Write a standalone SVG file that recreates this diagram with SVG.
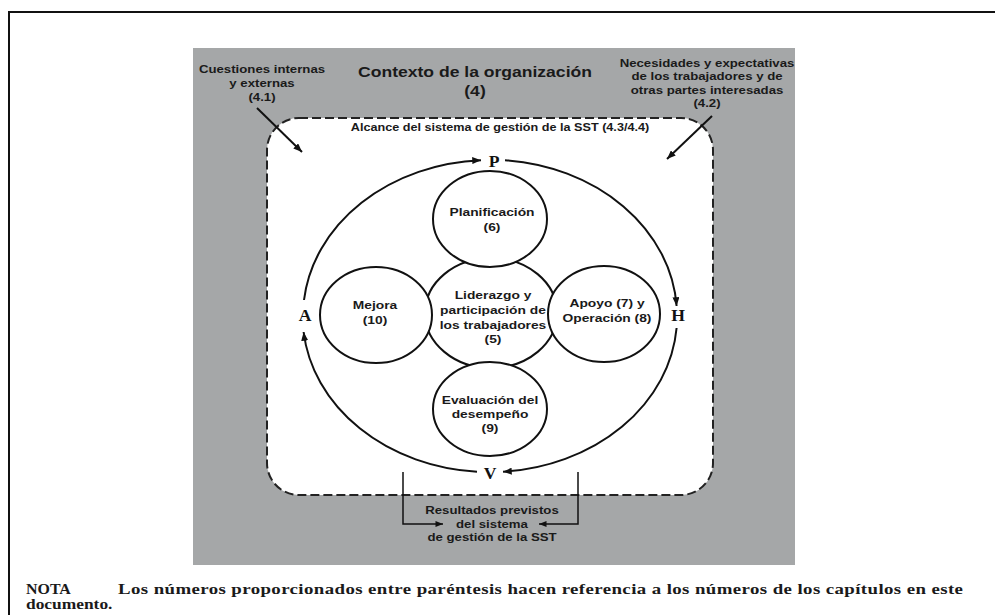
<svg xmlns="http://www.w3.org/2000/svg" width="995" height="615" viewBox="0 0 995 615">
<style>
.lbl{font-family:"Liberation Sans",Arial,sans-serif;font-weight:bold;fill:#1a1a1a;text-anchor:middle}
.s11{font-size:11.3px}
.s12{font-size:11.8px}
.ttl{font-size:15px}
.phva{font-family:"Liberation Serif","Times New Roman",serif;font-weight:bold;font-size:16px;fill:#111;text-anchor:middle}
.node{fill:#fff;stroke:#111;stroke-width:2}
.conn{fill:none;stroke:#111;stroke-width:2}
.thin{fill:none;stroke:#111;stroke-width:1.5}
.nota{font-family:"Liberation Serif","Times New Roman",serif;font-weight:bold;font-size:14.5px;fill:#1a1a1a}
</style>
<defs>
<marker id="ah" viewBox="0 0 10 8" refX="10" refY="4" markerWidth="9" markerHeight="7" markerUnits="userSpaceOnUse" orient="auto">
<path d="M0,0 L10,4 L0,8 z" fill="#111"/>
</marker>
<marker id="ahs" viewBox="0 0 10 8" refX="10" refY="4" markerWidth="8" markerHeight="6" markerUnits="userSpaceOnUse" orient="auto">
<path d="M0,0 L10,4 L0,8 z" fill="#111"/>
</marker>
</defs>
<rect x="0" y="0" width="995" height="615" fill="#fff"/>
<path d="M9,615 V12 H995" fill="none" stroke="#111" stroke-width="2"/>
<rect id="context-bg" x="193" y="48" width="602" height="517" fill="#a5a7a8"/>

<g id="context-title">
<text class="lbl ttl" transform="translate(475,77) scale(1.17,1)">Contexto de la organización</text>
<text class="lbl ttl" transform="translate(475,96) scale(1.17,1)">(4)</text>
</g>
<g id="issues">
<text class="lbl s11" transform="translate(262,73) scale(1.17,1)"><tspan x="0" dy="0">Cuestiones internas</tspan><tspan x="0" dy="14">y externas</tspan><tspan x="0" dy="14">(4.1)</tspan></text>
</g>
<g id="needs">
<text class="lbl s11" transform="translate(707,67) scale(1.17,1)"><tspan x="0" dy="0">Necesidades y expectativas</tspan><tspan x="0" dy="13.5">de los trabajadores y de</tspan><tspan x="0" dy="13.5">otras partes interesadas</tspan><tspan x="0" dy="13.5">(4.2)</tspan></text>
</g>

<g id="scope">
<rect x="267" y="118" width="446" height="377" rx="32" ry="32" fill="#fff" stroke="#222" stroke-width="2" stroke-dasharray="9 4"/>
<text class="lbl" font-size="10.8" transform="translate(500,131) scale(1.17,1)">Alcance del sistema de gestión de la SST (4.3/4.4)</text>
</g>

<g id="leadership">
<ellipse class="node" cx="491" cy="313" rx="66" ry="55"/>
<text class="lbl s12" transform="translate(493,299) scale(1.17,1)"><tspan x="0" dy="0">Liderazgo y</tspan><tspan x="0" dy="15">participación de</tspan><tspan x="0" dy="15">los trabajadores</tspan><tspan x="0" dy="14">(5)</tspan></text>
</g>
<g id="planning">
<ellipse class="node" cx="490" cy="219" rx="57" ry="48"/>
<text class="lbl s12" transform="translate(492,216) scale(1.17,1)"><tspan x="0" dy="0">Planificación</tspan><tspan x="0" dy="15">(6)</tspan></text>
</g>
<g id="improvement">
<ellipse class="node" cx="376" cy="315" rx="56" ry="48"/>
<text class="lbl s12" transform="translate(375,309) scale(1.17,1)"><tspan x="0" dy="0">Mejora</tspan><tspan x="0" dy="15">(10)</tspan></text>
</g>
<g id="support">
<ellipse class="node" cx="604" cy="314" rx="56" ry="48"/>
<text class="lbl s12" transform="translate(607,307) scale(1.17,1)"><tspan x="0" dy="0">Apoyo (7) y</tspan><tspan x="0" dy="15">Operación (8)</tspan></text>
</g>
<g id="evaluation">
<ellipse class="node" cx="490" cy="409" rx="57" ry="47"/>
<text class="lbl s12" transform="translate(490,404) scale(1.17,1)"><tspan x="0" dy="0">Evaluación del</tspan><tspan x="0" dy="14">desempeño</tspan><tspan x="0" dy="14">(9)</tspan></text>
</g>

<g id="phva-labels">
<text class="phva" transform="translate(494,167) scale(1.1,1)">P</text>
<text class="phva" transform="translate(678,321) scale(1.1,1)">H</text>
<text class="phva" transform="translate(490,479) scale(1.1,1)">V</text>
<text class="phva" transform="translate(305,321) scale(1.1,1)">A</text>
</g>

<g id="outcomes">
<text class="lbl s11" transform="translate(492,514) scale(1.17,1)"><tspan x="0" dy="0">Resultados previstos</tspan><tspan x="0" dy="14">del sistema</tspan><tspan x="0" dy="13.5">de gestión de la SST</tspan></text>
</g>

<g id="connectors">
<path class="conn" d="M304,300 A187,156 0 0 1 481,160.2" marker-end="url(#ah)"/>
<path class="conn" d="M505,160.2 A187,156 0 0 1 676.6,306" marker-end="url(#ah)"/>
<path class="conn" d="M676.6,328 A187,156 0 0 1 503,471.7" marker-end="url(#ah)"/>
<path class="conn" d="M477,471.7 A187,156 0 0 1 303.6,332" marker-end="url(#ah)"/>
<path class="conn" d="M257,108 L302,152" marker-end="url(#ah)"/>
<path class="conn" d="M712,116 L667,159" marker-end="url(#ah)"/>
<path class="thin" d="M403,472 V524 H443" marker-end="url(#ahs)"/>
<path class="thin" d="M578,472 V524 H539" marker-end="url(#ahs)"/>
</g>

<g id="note">
<text class="nota" transform="translate(26,594) scale(1.1,1)">NOTA</text>
<text class="nota" transform="translate(118,594) scale(1.3,1)" textLength="650" lengthAdjust="spacing">Los números proporcionados entre paréntesis hacen referencia a los números de los capítulos en este</text>
<text class="nota" transform="translate(26,609) scale(1.2,1)">documento.</text>
</g>
</svg>
